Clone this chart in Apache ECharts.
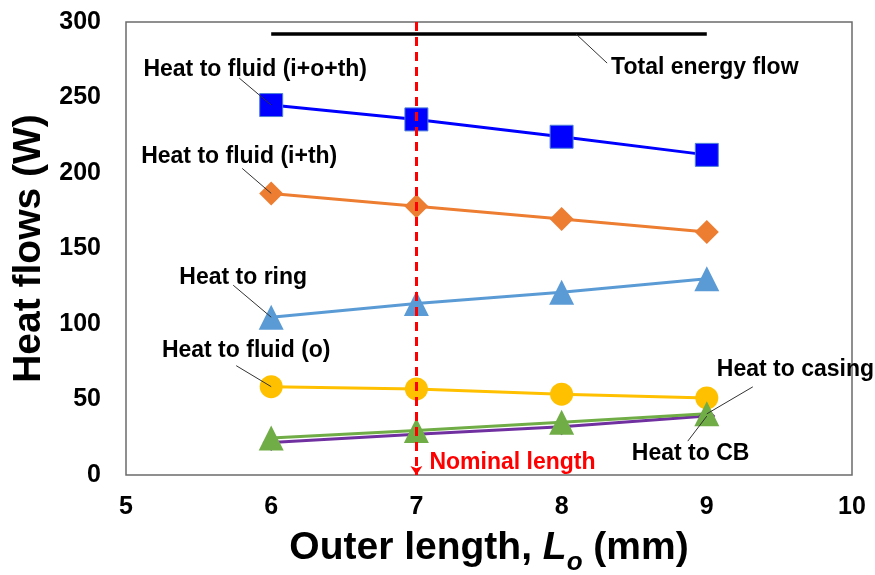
<!DOCTYPE html>
<html>
<head>
<meta charset="utf-8">
<script src="https://cdn.jsdelivr.net/npm/echarts@6/dist/echarts.min.js"></script>
<style>
  html, body { margin: 0; padding: 0; background: #ffffff; }
  #chart { width: 875px; height: 575px; }
</style>
</head>
<body>
<div id="chart"></div>
<script>
// Outer length L_o (mm) and heat flow components (W)
const outerLength = [6, 7, 8, 9];
const heatFluidIOTh = [245, 235.5, 224, 212];
const heatFluidITh = [186.5, 178, 169.5, 161];
const heatRing = [104.5, 113.5, 121, 130];
const heatFluidO = [58.5, 57, 53.5, 51];
const heatCasing = [24.5, 29.5, 35, 40.5];
const heatCB = [21.5, 27, 32, 39];

// Total energy flow, constant across the studied range
const totalFlowX = [6, 9];
const totalFlow = [292, 292];

// Nominal outer length marker
const nominalLength = 7;

// Axis ticks
const xTicks = [5, 6, 7, 8, 9, 10];
const yTicks = [0, 50, 100, 150, 200, 250, 300];

const FONT = "'Liberation Sans', Arial, Helvetica, sans-serif";

function pairs(xs, ys) { return xs.map((x, i) => [x, ys[i]]); }

const chart = echarts.init(document.getElementById('chart'), null, { renderer: 'canvas' });

function lineSeries(name, values, color, symbol, size, extra) {
  return Object.assign({
    name: name,
    type: 'line',
    data: pairs(outerLength, values),
    symbol: symbol,
    symbolSize: size,
    showAllSymbol: true,
    animation: false,
    lineStyle: { color: color, width: 3 },
    itemStyle: { color: color, opacity: 1 },
    z: 3
  }, extra || {});
}

const option = {
  animation: false,
  backgroundColor: '#ffffff',
  grid: {
    left: 126, right: 23, top: 22, bottom: 100,
    outerBoundsMode: 'none',
    containLabel: false,
    show: true, borderColor: '#6b6b6b', borderWidth: 1.5, backgroundColor: 'transparent'
  },
  xAxis: {
    type: 'value',
    min: xTicks[0], max: xTicks[xTicks.length - 1], interval: 1,
    axisLine: { show: false },
    axisTick: { show: false },
    splitLine: { show: false },
    axisLabel: { color: '#000', fontSize: 25, fontWeight: 'bold', fontFamily: FONT, margin: 20 },
    name: '{t|Outer length, }{i|L}{s|o}{t| (mm)}',
    nameLocation: 'middle',
    nameGap: 54,
    nameTextStyle: {
      rich: {
        t: { fontSize: 39, fontWeight: 'bold', fontFamily: FONT, color: '#000', verticalAlign: 'bottom', padding: [0, 0, 8, 0] },
        i: { fontSize: 39, fontWeight: 'bold', fontStyle: 'italic', fontFamily: FONT, color: '#000', verticalAlign: 'bottom', padding: [0, 0, 8, 0] },
        s: { fontSize: 26, fontWeight: 'bold', fontStyle: 'italic', fontFamily: FONT, color: '#000', verticalAlign: 'bottom' }
      }
    }
  },
  yAxis: {
    type: 'value',
    min: yTicks[0], max: yTicks[yTicks.length - 1], interval: 50,
    axisLine: { show: false },
    axisTick: { show: false },
    splitLine: { show: false },
    axisLabel: { color: '#000', fontSize: 25, fontWeight: 'bold', fontFamily: FONT, margin: 25 },
    name: 'Heat flows (W)',
    nameLocation: 'middle',
    nameGap: 70,
    nameTextStyle: { fontSize: 39, fontWeight: 'bold', fontFamily: FONT, color: '#000' }
  },
  series: [
    {
      name: 'Total energy flow',
      type: 'line',
      data: pairs(totalFlowX, totalFlow),
      symbol: 'none',
      lineStyle: { color: '#000', width: 3.5 },
      z: 2,
      markLine: {
        silent: true,
        symbol: ['none', 'arrow'],
        symbolSize: [9, 9],
        lineStyle: { color: '#ff0000', width: 3, type: [9, 6] },
        label: { show: false },
        data: [[
          { coord: [nominalLength, yTicks[yTicks.length - 1]] },
          { coord: [nominalLength, yTicks[0]] }
        ]]
      }
    },
    lineSeries('Heat to fluid (i+o+th)', heatFluidIOTh, '#0000ff', 'rect', 23,
      { itemStyle: { color: '#0000ff', borderColor: '#4f81d9', borderWidth: 1 } }),
    lineSeries('Heat to fluid (i+th)', heatFluidITh, '#ed7d31', 'diamond', 24),
    lineSeries('Heat to ring', heatRing, '#5b9bd5', 'triangle', 25),
    lineSeries('Heat to fluid (o)', heatFluidO, '#ffc000', 'circle', 23),
    lineSeries('Heat to CB', heatCB, '#7030a0', 'diamond', 17),
    lineSeries('Heat to casing', heatCasing, '#70ad47', 'triangle', 25)
  ]
};

chart.setOption(option);

// Callout labels: text, anchor point in data space, leader end offset, text offset (px)
const callouts = [
  { text: 'Heat to fluid (i+o+th)', at: [outerLength[0], heatFluidIOTh[0]], lead: [-32, -27], pos: [-16, -35], align: 'center' },
  { text: 'Heat to fluid (i+th)', at: [outerLength[0], heatFluidITh[0]], lead: [-29, -25], pos: [-32, -37], align: 'center' },
  { text: 'Heat to ring', at: [outerLength[0], heatRing[0]], lead: [-38, -32], pos: [-28, -40], align: 'center' },
  { text: 'Heat to fluid (o)', at: [outerLength[0], heatFluidO[0]], lead: [-35, -21], pos: [-25, -36], align: 'center' },
  { text: 'Total energy flow', at: [8.1, totalFlow[0]], lead: [31, 29], pos: [35, 34], align: 'left' },
  { text: 'Heat to casing', at: [outerLength[3], heatCasing[3]], lead: [46, -27], pos: [10, -44], align: 'left' },
  { text: 'Heat to CB', at: [outerLength[3], heatCB[3]], lead: [-19, 25], pos: [-75, 38], align: 'left' }
];

const graphics = [];
callouts.forEach(c => {
  const p = chart.convertToPixel({ gridIndex: 0 }, c.at);
  graphics.push({
    type: 'line', silent: true, z: 10,
    shape: { x1: p[0] + c.lead[0], y1: p[1] + c.lead[1], x2: p[0], y2: p[1] },
    style: { stroke: '#333333', lineWidth: 1 }
  });
  graphics.push({
    type: 'text', silent: true, z: 10,
    x: p[0] + c.pos[0], y: p[1] + c.pos[1],
    style: {
      text: c.text, fill: '#000', font: 'bold 23px ' + FONT,
      align: c.align, verticalAlign: 'middle'
    }
  });
});

const nomPt = chart.convertToPixel({ gridIndex: 0 }, [nominalLength, yTicks[0]]);
graphics.push({
  type: 'text', silent: true, z: 10,
  x: nomPt[0] + 13, y: nomPt[1] - 12,
  style: { text: 'Nominal length', fill: '#ff0000', font: 'bold 23px ' + FONT, align: 'left', verticalAlign: 'middle' }
});

chart.setOption({ graphic: graphics });
</script>
</body>
</html>
